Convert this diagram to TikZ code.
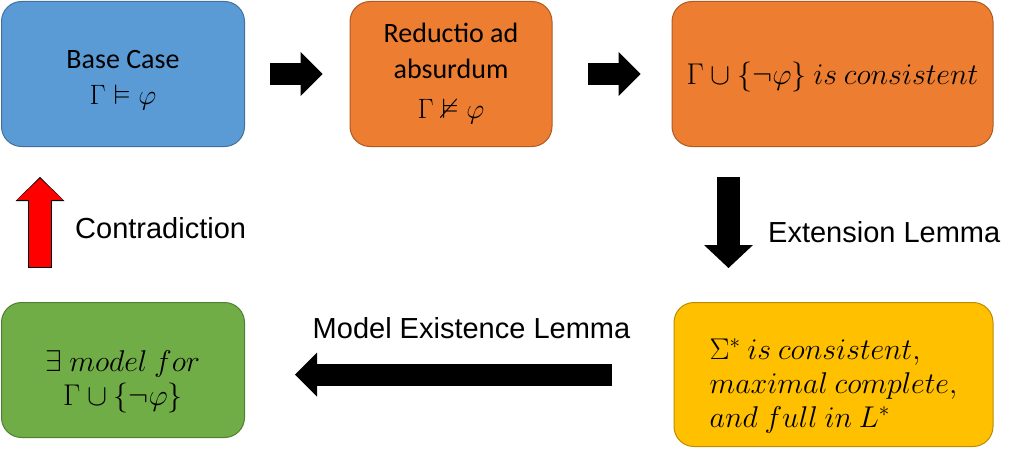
\documentclass[tikz,border=0pt]{standalone}
\usepackage{fix-cm}
\usepackage{amsmath,amssymb}
\usepackage[usenames,dvipsnames]{xcolor}
\usepackage{fontspec}
\usepackage{tikz}
\usetikzlibrary{arrows.meta}
\newfontfamily\boxfont{Carlito}
\newfontfamily\labelfont{Liberation Sans}
\definecolor{caseblue}{HTML}{5B9BD5}
\definecolor{caseblueline}{HTML}{41719C}
\definecolor{steporange}{HTML}{ED7D31}
\definecolor{steporangeline}{HTML}{AE5A21}
\definecolor{modelgreen}{HTML}{70AD47}
\definecolor{modelgreenline}{HTML}{507E32}
\definecolor{sigmayellow}{HTML}{FFC000}
\definecolor{sigmayellowline}{HTML}{BC8C00}

\begin{document}
\begin{tikzpicture}[x=1pt, y=-1pt,
    box/.style={draw, rounded corners=20pt, line width=1pt, align=center,
                inner sep=0pt, font=\boxfont\fontsize{28}{36}\selectfont},
    mathbox/.style={box, font=\boxfont\fontsize{30}{34}\selectfont},
    blockarrow/.style={line width=22pt,
                -{Triangle[width=44pt, length=22pt, line width=0pt]}},
    lbl/.style={inner sep=0pt, font=\labelfont\fontsize{29}{34}\selectfont}]
      \useasboundingbox (0,0) rectangle (1024,452);
      \node[box, fill=caseblue, draw=caseblueline, minimum width=243pt, minimum height=145pt]
          (base) at (123,74) {\rule{0pt}{30pt}Base Case\\ $\Gamma \vDash \varphi$};
      \node[box, fill=steporange, draw=steporangeline, minimum width=202pt, minimum height=145pt]
          (reductio) at (451,74) {Reductio ad\\ absurdum\\[4pt] $\Gamma \nvDash \varphi$};
      \node[mathbox, fill=steporange, draw=steporangeline, minimum width=321pt, minimum height=145pt]
          (cons) at (832.5,74) {\rule{0pt}{28pt}$\Gamma \cup \{\neg\varphi\}\ is\ consistent$};
      \node[mathbox, fill=modelgreen, draw=modelgreenline, minimum width=243pt, minimum height=135pt]
          (model) at (123,370) {\rule{0pt}{44pt}$\exists\ model\ for$\\ $\Gamma \cup \{\neg\varphi\}$};
      \node[mathbox, align=left, fill=sigmayellow, draw=sigmayellowline, minimum width=319pt, minimum height=144pt]
          (sigma) at (833.5,374.5) {\rule{0pt}{44pt}$\Sigma^{*}\ is\ consistent,$\\ $maximal\ complete,$\\ $and\ full\ in\ L^{*}$};

      % block arrows between the boxes
      \draw[blockarrow, shorten <=25pt, shorten >=27pt] (base) -- (reductio);
      \draw[blockarrow, shorten <=35pt, shorten >=31pt] (reductio) -- (cons);
      \draw[blockarrow, line width=23pt, -{Triangle[width=49pt, length=23pt, line width=0pt]},
          shorten <=30pt, shorten >=34pt]
          ([xshift=-104pt]cons.south) -- ([xshift=-105pt]sigma.north);
      \draw[blockarrow, shorten <=62pt, shorten >=50pt] (sigma.west) -- (sigma.west -| model.east);
      % red arrow: black outline first, red on top
      \draw[line width=24pt, -{Triangle[width=49pt, length=24pt, line width=0pt]},
          shorten <=34pt, shorten >=30pt]
          ([xshift=-83pt]model.north) -- ([xshift=-83pt]base.south);
      \draw[red, line width=22pt, -{Triangle[width=46pt, length=21.5pt, line width=0pt]},
          shorten <=35pt, shorten >=31.4pt]
          ([xshift=-83pt]model.north) -- ([xshift=-83pt]base.south);

      \node[lbl, anchor=west] (contra) at (75,228) {Contradiction};
      \node[lbl, anchor=west] (ext) at (768,232) {Extension Lemma};
      \node[lbl] (mel) at (471.5,328) {Model Existence Lemma};
\end{tikzpicture}
\end{document}
